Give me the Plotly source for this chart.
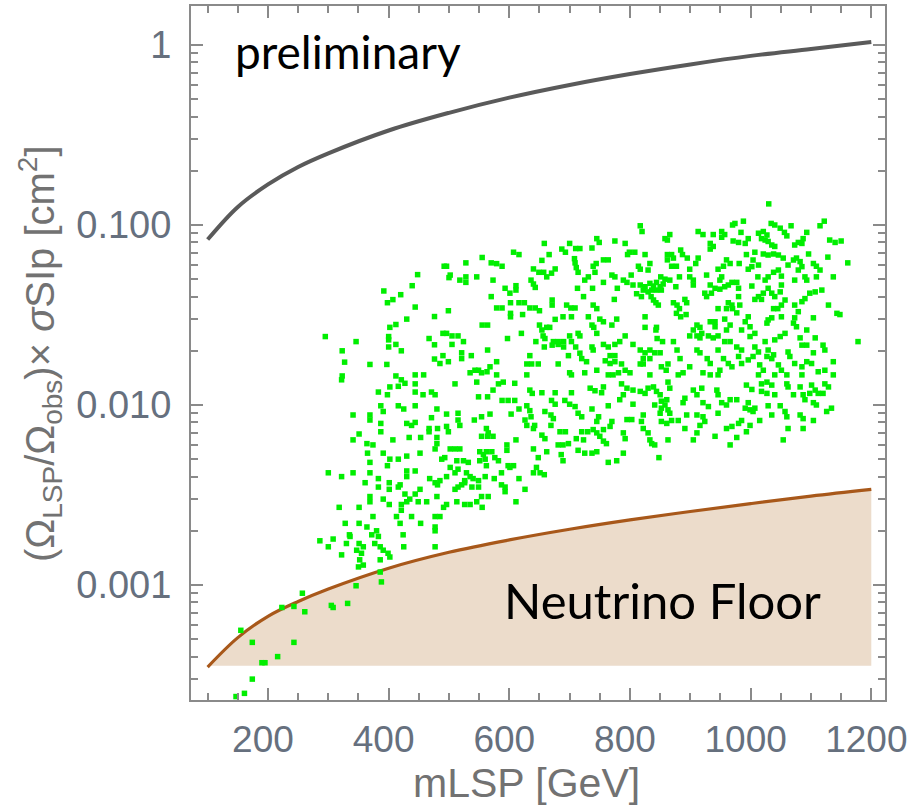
import plotly.graph_objects as go

# ---------------- data ----------------
# upper (grey) limit curve
upper_mass = [100, 150, 200, 250, 300, 400, 500, 600, 700, 800, 900, 1000, 1100, 1200]
upper_sigma = [0.083, 0.126, 0.168, 0.21, 0.25, 0.335, 0.42, 0.51, 0.60, 0.69, 0.78, 0.87, 0.95, 1.04]

# neutrino floor curve
floor_mass = [100, 150, 200, 250, 300, 400, 500, 600, 700, 800, 900, 1000, 1100, 1200]
floor_sigma = [0.00035, 0.00051, 0.00067, 0.00081, 0.00095, 0.00124, 0.00152, 0.00178,
               0.00204, 0.0023, 0.00256, 0.00283, 0.00312, 0.0034]
floor_base = 0.000356

# scan points (mLSP [GeV], scaled cross section [cm^2])
pts_a = [(492,0.059),(448,0.053),(392,0.043),(439,0.046),(420,0.041),(407,0.0385),(398,0.037),
         (444,0.035),(476,0.031),(430,0.030),(412,0.028),(402,0.027),(295,0.024),(400,0.024),
         (400,0.023),(490,0.025),(467,0.0234),(346,0.0225),(412,0.0217),(400,0.021),(476,0.0216),
         (421,0.020),(323,0.020),(490,0.0188),(476,0.018),(485,0.017),(327,0.0173),(369,0.0168),
         (397,0.0168),(323,0.0145),(412,0.0145),(444,0.0147),(458,0.0147),(421,0.0138)]

pts_b = [(658,0.079),(700,0.079),(607,0.0706),(616,0.0685),(687,0.0735),(693,0.0706),(710,0.074),
         (717,0.074),(666,0.0685),(555,0.066),(528,0.0616),(570,0.0616),(579,0.061),(588,0.059),
         (496,0.059),(654,0.0636),(708,0.065),(709,0.0616),(711,0.058),(714,0.0546),(640,0.057),
         (649,0.0546),(657,0.0546),(676,0.057),(670,0.054),(662,0.0515),(502,0.0527),(500,0.051),
         (518,0.0494),(528,0.0515),(528,0.048),(546,0.0515),(573,0.0494),(636,0.0494),(640,0.047),
         (643,0.045),(725,0.0494),(731,0.0515),(593,0.0445),(601,0.0418),(611,0.046),(611,0.0435),
         (713,0.0445),(570,0.040),(723,0.040),(671,0.0383),(671,0.0359),(602,0.037),(616,0.037),
         (625,0.037),(579,0.0346),(588,0.0346),(634,0.0346),(643,0.0346),(650,0.0334),(695,0.0359),
         (702,0.0346),(709,0.0346),(499,0.0334),(602,0.0323),(602,0.0309),(622,0.0318),(689,0.0309),
         (703,0.0309),(676,0.0299),(731,0.0309),(555,0.0278),(564,0.0278),(650,0.0278),(654,0.0261),
         (662,0.027),(667,0.027),(496,0.025),(505,0.0242),(515,0.0242),(620,0.025),(597,0.0234),
         (656,0.0242),(659,0.0234),(700,0.0242),(714,0.025),(717,0.0242),(505,0.0217),(524,0.0225),
         (644,0.0225),(673,0.0225),(681,0.0225),(690,0.0225),(690,0.021),(681,0.0217),(671,0.0215),
         (658,0.021),(703,0.0225),(710,0.021),(564,0.0202),(521,0.0195),(521,0.0181),(537,0.0188),
         (499,0.0174),(634,0.0188),(698,0.0188),(717,0.0194),(720,0.0181),(728,0.0174),(579,0.0174),
         (629,0.0169),(637,0.0169),(648,0.0169),(681,0.0169),(568,0.0163),(535,0.0151),(543,0.0156),
         (549,0.0156),(554,0.0151),(563,0.0153),(579,0.0147),(629,0.0147),(700,0.0151),(703,0.0147),
         (725,0.0151)]

pts_c = [(817,0.099),(820,0.092),(913,0.092),(921,0.0885),(938,0.0885),(952,0.092),(957,0.0885),
         (952,0.0855),(970,0.100),(866,0.0885),(858,0.084),(862,0.0825),(745,0.084),(749,0.080),
         (775,0.0815),(792,0.079),(737,0.0745),(933,0.079),(938,0.076),(933,0.0735),(971,0.0815),
         (799,0.0706),(808,0.0706),(796,0.0685),(825,0.0685),(884,0.0726),(887,0.0685),(862,0.0685),
         (869,0.0685),(872,0.0655),(862,0.064),(895,0.0655),(913,0.0655),(909,0.0611),(756,0.064),
         (764,0.064),(744,0.0611),(739,0.059),(814,0.059),(817,0.0568),(833,0.0611),(830,0.0562),
         (869,0.059),(877,0.059),(899,0.0568),(960,0.064),(955,0.059),(946,0.0568),(966,0.0611),
         (742,0.0546),(770,0.0527),(775,0.0515),(802,0.0527),(851,0.0515),(858,0.050),(882,0.0515),
         (899,0.0515),(905,0.0494),(927,0.0527),(952,0.0515),(949,0.0494),(756,0.048),(789,0.0494),
         (795,0.048),(805,0.0464),(817,0.0464),(825,0.0454),(833,0.0474),(839,0.0458),(844,0.048),
         (850,0.0454),(855,0.047),(844,0.0435),(836,0.0435),(830,0.0425),(852,0.0435),(822,0.0435),
         (866,0.0494),(876,0.0454),(905,0.0464),(738,0.0445),(779,0.0445),(933,0.0464),(941,0.0445),
         (949,0.044),(957,0.0454),(963,0.0464),(969,0.048),(811,0.0415),(819,0.040),(835,0.040),
         (839,0.0383),(847,0.0359),(843,0.037),(924,0.0418),(927,0.040),(935,0.0418),(774,0.0386),
         (891,0.0386),(894,0.037),(872,0.037),(878,0.0359),(882,0.0343),(739,0.0359),(745,0.0343),
         (963,0.037),(969,0.0359),(960,0.0343),(970,0.0343),(946,0.0343),(877,0.0323),(884,0.0309),
         (893,0.0318),(825,0.0309),(750,0.030),(756,0.029),(778,0.030),(933,0.029),(941,0.029),
         (941,0.0272),(957,0.030),(911,0.0278),(916,0.027),(905,0.0261),(737,0.0278),(740,0.027),
         (770,0.0278),(825,0.027),(844,0.027),(843,0.0261),(966,0.0278),(960,0.0261),(745,0.025),
         (899,0.0242),(911,0.0242),(919,0.025),(916,0.0236),(930,0.0242),(938,0.0236),(946,0.0242),
         (792,0.0242),(783,0.0225),(845,0.0234),(756,0.0217),(764,0.021),(775,0.0217),(805,0.0217),
         (854,0.0225),(872,0.0225),(957,0.0225),(966,0.0225),(737,0.021),(739,0.0202),(817,0.0202),
         (825,0.0195),(833,0.0202),(841,0.0195),(850,0.0195),(878,0.0202),(911,0.0202),(916,0.0195),
         (946,0.0202),(767,0.0188),(775,0.0188),(759,0.0176),(767,0.0170),(775,0.0174),(822,0.0181),
         (833,0.0181),(883,0.0181),(928,0.0181),(933,0.0170),(955,0.0181),(963,0.0170),(786,0.0169),
         (792,0.0156),(800,0.0151),(817,0.0169),(822,0.0169),(852,0.0163),(860,0.0156),(863,0.0169),
         (899,0.0163),(745,0.0156),(764,0.0147),(772,0.0147),(781,0.0151),(833,0.0147),(880,0.0147),
         (888,0.0151),(921,0.0151),(933,0.0147),(949,0.0156),(946,0.0147),(969,0.0163)]

pts_d = [(1030,0.131),(988,0.105),(1034,0.102),(1040,0.100),(1049,0.096),(1056,0.091),(1060,0.087),
         (1067,0.099),(1115,0.099),(1122,0.105),(1093,0.091),(1087,0.084),(1079,0.080),(1073,0.0774),
         (1085,0.079),(974,0.102),(984,0.091),(1013,0.090),(1021,0.092),(1027,0.088),(1018,0.084),
         (1024,0.0825),(1029,0.081),(1035,0.0774),(1040,0.076),(996,0.084),(991,0.079),(980,0.080),
         (1131,0.0825),(1140,0.080),(1150,0.0815),(1007,0.0706),(993,0.0685),(1021,0.069),(1029,0.0681),
         (1038,0.069),(1046,0.0681),(1054,0.0655),(1062,0.0599),(1071,0.0639),(1076,0.0655),(1082,0.0626),
         (1085,0.0587),(1079,0.0562),(1096,0.069),(1104,0.0611),(1109,0.059),(1115,0.0562),(1128,0.0663),
         (1161,0.0616),(981,0.0611),(1004,0.0639),(1013,0.0599),(1002,0.0587),(996,0.0568),(1038,0.0546),
         (1046,0.0562),(1029,0.0515),(1024,0.0494),(1012,0.0515),(1051,0.052),(1051,0.0464),(1073,0.0494),
         (1090,0.0515),(1093,0.0494),(1109,0.0515),(1137,0.0515),(977,0.048),(980,0.0445),(1002,0.0458),
         (1029,0.0445),(1035,0.0418),(1040,0.040),(1021,0.0418),(1013,0.040),(1018,0.0386),(1049,0.0425),
         (1057,0.0383),(1051,0.0359),(1007,0.0386),(1098,0.0418),(1107,0.0425),(1118,0.0435),(1090,0.039),
         (1085,0.0375),(980,0.040),(982,0.0359),(1073,0.0359),(1079,0.033),(1073,0.0305),(1071,0.0285),
         (1076,0.0272),(1129,0.0359),(1038,0.0343),(1045,0.0343),(977,0.0325),(1143,0.0323),(1148,0.0318),
         (996,0.0309),(991,0.029),(1029,0.0297),(1035,0.0305),(1027,0.0285),(1051,0.0309),(1104,0.0305),
         (985,0.0261),(999,0.0272),(1007,0.025),(999,0.024),(1057,0.025),(1049,0.024),(1040,0.023),
         (1093,0.0261),(1082,0.0236),(1107,0.0236),(1178,0.0225),(1024,0.0225),(977,0.021),(985,0.0202),
         (980,0.0186),(1007,0.021),(1013,0.0197),(1004,0.0186),(1029,0.0202),(1038,0.019),(1027,0.0186),
         (1035,0.0181),(1062,0.0197),(1065,0.0186),(1085,0.0215),(1093,0.0215),(1104,0.0195),(1120,0.0215),
         (1123,0.0202),(1137,0.0174),(985,0.017),(996,0.0178),(1015,0.0167),(1021,0.0156),(1013,0.0147),
         (1046,0.0167),(1051,0.0156),(1040,0.0147),(1073,0.017),(1085,0.0163),(1093,0.0174),(1101,0.017),
         (1112,0.0153),(1123,0.0156),(1060,0.0147),(1085,0.0147),(1137,0.0147)]

pts_e = [(322,0.0138),(402,0.0126),(416,0.0127),(427,0.0132),(444,0.0131),(383,0.0118),(398,0.0114),
         (444,0.0118),(457,0.0114),(471,0.0118),(477,0.0114),(387,0.0099),(391,0.0092),(416,0.0099),
         (425,0.0095),(444,0.0099),(480,0.0095),(341,0.0088),(369,0.0088),(369,0.00825),(471,0.0085),
         (387,0.0079),(387,0.0071),(430,0.0079),(438,0.0077),(444,0.0080),(467,0.0074),(467,0.0071),
         (481,0.0074),(351,0.0069),(341,0.0064),(407,0.0064),(434,0.0066),(453,0.0066),(480,0.0066),
         (480,0.0061),(477,0.0057),(364,0.0061),(374,0.0060),(365,0.0054),(391,0.0054),(402,0.0050),
         (398,0.0046),(416,0.0050),(430,0.0052),(452,0.0054),(488,0.0050),(369,0.0048),(300,0.0042),
         (322,0.0040),(341,0.0042),(369,0.0042),(430,0.0043),(430,0.0040),(444,0.0043),(383,0.0039),
         (383,0.0035),(361,0.0037),(401,0.0037),(401,0.0034),(419,0.0036),(416,0.0035),(468,0.0039),
         (477,0.0037),(485,0.0038),(481,0.0036),(452,0.0034),(444,0.0032),(435,0.0030),(430,0.0029),
         (421,0.0028),(421,0.0026),(427,0.0032),(369,0.0031),(369,0.0029),(391,0.0030),(401,0.0028),
         (449,0.0029),(463,0.0029),(480,0.0031),(318,0.0027),(351,0.0027),(491,0.0027),(374,0.0024),
         (413,0.0024),(419,0.0022),(438,0.0024),(477,0.0024),(485,0.0024),(328,0.0022),(351,0.0022),
         (453,0.0022),(477,0.0021),(477,0.0020),(364,0.0021),(372,0.0019),(380,0.0020),(383,0.00186),
         (335,0.0019),(336,0.00186),(308,0.0018),(424,0.0019),(286,0.00176),(300,0.00163),(330,0.0017),
         (351,0.0017),(358,0.00163),(347,0.00156),(355,0.0015),(352,0.00138),(358,0.00129),(377,0.0017),
         (386,0.00163),(391,0.00156),(386,0.00138),(399,0.0015),(402,0.00143),(425,0.00163),(477,0.00163),
         (322,0.00147)]

pts_low = [(350,0.00126),(386,0.00118),(388,0.00104),(346,0.00099),(332,0.00079),(305,0.00077),
           (308,0.00075),(257,0.00090),(261,0.00071),(243,0.00076),(223,0.00075),(243,0.00048),
           (216,0.00040),(190,0.00037),(195,0.00037),(174,0.00048),(155,0.00056),(174,0.00030),
           (161,0.00025),(147,0.00024)]

pts_f = [(510,0.0131),(546,0.0134),(582,0.0131),(590,0.0134),(609,0.0132),(573,0.0121),(634,0.0121),
         (638,0.0116),(654,0.0117),(676,0.0117),(703,0.0117),(549,0.0111),(564,0.0111),(588,0.0106),
         (598,0.0106),(609,0.0106),(670,0.0106),(676,0.0101),(692,0.0106),(700,0.0101),(709,0.0098),
         (629,0.0099),(634,0.0093),(636,0.0086),(616,0.0095),(659,0.0092),(669,0.0088),(673,0.0084),
         (669,0.0077),(496,0.0089),(515,0.0090),(515,0.00825),(518,0.0077),(542,0.00825),(554,0.0086),
         (568,0.0089),(603,0.0089),(626,0.00825),(629,0.0077),(640,0.0074),(642,0.0077),(714,0.0090),
         (720,0.0086),(496,0.0076),(499,0.0071),(562,0.0074),(565,0.0070),(684,0.0071),(693,0.0071),
         (720,0.0071),(730,0.0071),(554,0.0067),(564,0.0067),(573,0.0067),(654,0.0068),(659,0.0065),
         (711,0.0065),(723,0.0064),(611,0.0064),(596,0.0060),(596,0.0056),(681,0.0060),(689,0.0060),
         (698,0.0061),(502,0.0057),(510,0.0057),(518,0.0057),(640,0.0057),(662,0.0055),(714,0.0056),
         (725,0.0054),(551,0.0055),(557,0.0053),(562,0.0055),(571,0.0055),(576,0.0051),(582,0.0049),
         (551,0.0049),(560,0.0050),(686,0.0053),(689,0.0049),(648,0.0051),(513,0.0049),(524,0.0049),
         (532,0.0048),(493,0.0051),(598,0.0046),(607,0.0046),(601,0.0045),(562,0.0046),(645,0.0045),
         (640,0.0042),(651,0.0042),(658,0.0041),(502,0.0045),(515,0.0044),(510,0.0042),(496,0.0040),
         (529,0.0042),(535,0.0040),(526,0.0038),(540,0.0039),(549,0.0038),(560,0.0040),(575,0.0039),
         (587,0.0042),(616,0.0039),(515,0.0035),(510,0.0034),(521,0.0036),(526,0.0037),(538,0.0035),
         (549,0.0035),(587,0.0036),(593,0.0035),(593,0.0033),(626,0.0034),(565,0.0031),(554,0.0031),
         (513,0.0029),(526,0.0028),(535,0.0028),(546,0.0029),(555,0.0027),(611,0.0029),(496,0.0028)]

pts_g = [(734,0.0124),(742,0.012),(753,0.0117),(756,0.0126),(786,0.0131),(795,0.0124),(789,0.0114),
         (783,0.0107),(805,0.0121),(817,0.0119),(825,0.0116),(830,0.0124),(839,0.0126),(844,0.0119),
         (850,0.0114),(863,0.0134),(866,0.0124),(852,0.0105),(861,0.0107),(858,0.0100),(852,0.0096),
         (863,0.0094),(850,0.0090),(866,0.0090),(841,0.0100),(891,0.0109),(888,0.0103),(905,0.0121),
         (911,0.0114),(919,0.0124),(921,0.0103),(930,0.0098),(944,0.0121),(946,0.0114),(952,0.0103),
         (960,0.0100),(966,0.0107),(805,0.0101),(764,0.0099),(737,0.0095),(748,0.0086),(745,0.0081),
         (770,0.0081),(767,0.0076),(756,0.0073),(795,0.0083),(803,0.0083),(822,0.0088),(819,0.0081),
         (822,0.0074),(830,0.0070),(852,0.0081),(861,0.0079),(869,0.0082),(880,0.0082),(894,0.0088),
         (911,0.0088),(921,0.0086),(924,0.0081),(916,0.0077),(946,0.0090),(960,0.0074),(969,0.0076),
         (891,0.0074),(911,0.0070),(745,0.0070),(750,0.0067),(739,0.0073),(756,0.0063),(761,0.0061),
         (789,0.0070),(792,0.0065),(833,0.0064),(841,0.0060),(836,0.0061),(863,0.0064),(905,0.0064),
         (941,0.0067),(966,0.0060),(745,0.0055),(737,0.0054),(789,0.0054),(778,0.0049),(764,0.0048),
         (848,0.0051)]

pts_h = [(993,0.0129),(1002,0.0122),(1018,0.0131),(1027,0.0134),(1035,0.0129),(1018,0.0119),
         (1027,0.0116),(1060,0.0131),(1062,0.0126),(1082,0.0126),(1101,0.0129),(1107,0.0121),
         (1098,0.0116),(1112,0.0116),(1123,0.0131),(1129,0.0126),(1120,0.0116),(977,0.0107),
         (1040,0.0114),(1071,0.0114),(1087,0.0114),(1090,0.0107),(996,0.0103),(991,0.0096),
         (999,0.0094),(1004,0.0092),(1007,0.0096),(1029,0.0099),(1049,0.0099),(1057,0.0092),
         (1060,0.0086),(1035,0.0088),(1082,0.0088),(1087,0.0084),(1104,0.0103),(1109,0.0100),
         (1126,0.0092),(1134,0.0096),(1104,0.0082),(1015,0.0082),(985,0.0082),(980,0.0079),
         (999,0.0077),(993,0.0071),(1062,0.0074),(1087,0.0074),(977,0.0066),(1054,0.0064)]

y_tick_vals = [0.001, 0.01, 0.1, 1]
y_tick_text = ["0.001", "0.010", "0.100", "1"]
y_minor_vals = [m * 10.0 ** e for e in (-4, -3, -2, -1) for m in range(2, 10)]

# ---------------- figure ----------------
all_pts = pts_a + pts_b + pts_c + pts_d + pts_e + pts_low + pts_f + pts_g + pts_h
scan_mass = [p[0] for p in all_pts]
scan_sigma = [p[1] for p in all_pts]

axis_grey = "#8a8a8a"
label_col = "#66707e"
title_col = "#727272"

fig = go.Figure()

# neutrino floor shaded region
fig.add_trace(go.Scatter(
    x=floor_mass + [floor_mass[-1], floor_mass[0]],
    y=floor_sigma + [floor_base, floor_base],
    fill="toself", fillcolor="#ecdccb", line=dict(width=0),
    mode="lines", hoverinfo="skip", showlegend=False))

# neutrino floor line
fig.add_trace(go.Scatter(
    x=floor_mass, y=floor_sigma, mode="lines",
    line=dict(color="#a8581a", width=3.2, shape="spline"), showlegend=False))

# upper grey curve
fig.add_trace(go.Scatter(
    x=upper_mass, y=upper_sigma, mode="lines",
    line=dict(color="#5a5a5a", width=4, shape="spline"), showlegend=False))

# scan points
fig.add_trace(go.Scatter(
    x=scan_mass, y=scan_sigma, mode="markers",
    marker=dict(symbol="square", size=5.5, color="#00ee00", line=dict(width=0)),
    showlegend=False))

fig.update_layout(
    width=911, height=810,
    margin=dict(l=191, r=26, t=6, b=110, autoexpand=False),
    paper_bgcolor="white", plot_bgcolor="white",
    font=dict(family="Liberation Sans, Arial, sans-serif", size=38, color=label_col),
    xaxis=dict(
        range=[72.4, 1222.7], showgrid=False, zeroline=False, automargin=False,
        showline=True, linecolor=axis_grey, linewidth=2, mirror="ticks",
        ticks="inside", ticklen=12, tickwidth=2, tickcolor=axis_grey,
        tick0=0, dtick=200, ticklabelstandoff=6, ticklabelshift=-5,
        ticklabeloverflow="allow",
        tickfont=dict(size=37, color=label_col),
        minor=dict(ticks="inside", ticklen=7, tickwidth=1.5, tickcolor=axis_grey,
                   dtick=50, tick0=0, showgrid=False),
    ),
    yaxis=dict(
        type="log", range=[-3.639, 0.2167], showgrid=False, zeroline=False, automargin=False,
        showline=True, linecolor=axis_grey, linewidth=2, mirror="ticks",
        ticks="inside", ticklen=12, tickwidth=2, tickcolor=axis_grey,
        tickmode="array", tickvals=y_tick_vals, ticktext=y_tick_text,
        ticklabelstandoff=10, ticklabeloverflow="allow",
        tickfont=dict(size=38, color=label_col),
        minor=dict(ticks="inside", ticklen=7, tickwidth=1.5, tickcolor=axis_grey,
                   tickmode="array", tickvals=y_minor_vals, showgrid=False),
    ),
    annotations=[
        dict(text="mLSP [GeV]", xref="paper", yref="paper", x=0.484, y=-0.12,
             xanchor="center", yanchor="middle", showarrow=False,
             font=dict(size=41, color=title_col)),
        dict(text="(Ω<sub>LSP</sub>/Ω<sub>obs</sub>)× <i>σ</i>SIp [cm<sup>2</sup>]",
             xref="paper", yref="paper", x=-0.2176, y=0.5, textangle=-90,
             xanchor="center", yanchor="middle", showarrow=False,
             font=dict(size=40, color=title_col)),
        dict(text="preliminary", xref="paper", yref="paper", x=0.226, y=0.935,
             xanchor="center", yanchor="middle", showarrow=False,
             font=dict(family="Lato, sans-serif", size=46, color="black")),
        dict(text="Neutrino Floor", xref="paper", yref="paper", x=0.68, y=0.144,
             xanchor="center", yanchor="middle", showarrow=False,
             font=dict(family="Lato, sans-serif", size=49, color="black")),
    ],
)

fig.write_html(
    "out.html",
    config={"displayModeBar": False},
    post_script="document.body.style.margin='0px';document.body.style.overflow='hidden';",
)
